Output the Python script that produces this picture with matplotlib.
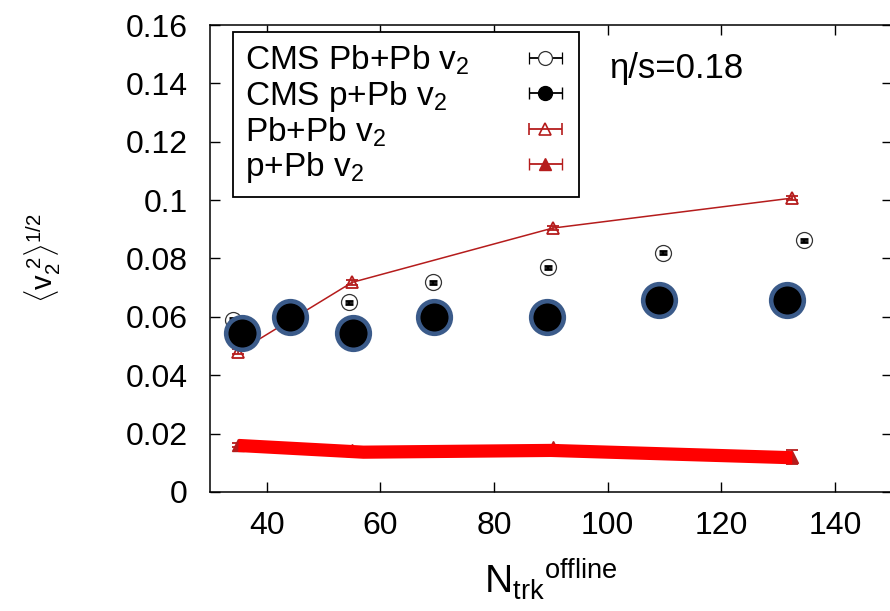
import numpy as np
import matplotlib
matplotlib.use("Agg")
import matplotlib.pyplot as plt
from matplotlib.ticker import FuncFormatter

plt.rcParams['font.family'] = ['Liberation Sans', 'DejaVu Sans']
plt.rcParams['mathtext.fontset'] = 'custom'
plt.rcParams['mathtext.rm'] = 'Liberation Sans'
plt.rcParams['mathtext.it'] = 'Liberation Sans'
plt.rcParams['mathtext.bf'] = 'Liberation Sans:bold'

# CMS measurements
cmsPbPbN = [34, 54.5, 69.2, 89.5, 109.8, 134.6]
cmsPbPbV2 = [0.059, 0.065, 0.0718, 0.077, 0.082, 0.0862]
cmsPbPbErr = [0.0005, 0.0005, 0.0005, 0.0005, 0.0005, 0.0005]

cmspPbN = [35.6, 44.1, 55.2, 69.5, 89.3, 109.1, 131.6]
cmspPbV2 = [0.0546, 0.0601, 0.0546, 0.0601, 0.0601, 0.0656, 0.0656]

# hydro calculation, eta/s = 0.18
modelN = [35, 55, 90.3, 132.5]
modelPbPbV2 = [0.048, 0.0718, 0.0904, 0.1007]
modelPbPbErr = [0.0008, 0.0008, 0.0008, 0.0008]
modelpPbV2 = [0.016, 0.0145, 0.0155, 0.012]
modelpPbErr = [0.0006, 0.0006, 0.0006, 0.0025]

# highlighted p+Pb trend
trendN = [35, 57, 90, 132.5]
trendV2 = [0.0159, 0.0136, 0.0142, 0.0117]

xTicks = [40, 60, 80, 100, 120, 140]
yTicks = [0, 0.02, 0.04, 0.06, 0.08, 0.1, 0.12, 0.14, 0.16]
labels = ['CMS Pb+Pb v$_2$', 'CMS p+Pb v$_2$', 'Pb+Pb v$_2$', 'p+Pb v$_2$']

darkRed = '#b51c1c'
ringBlue = '#3b5b8a'

fig = plt.figure(figsize=(8.9, 6.11), dpi=100)
ax = fig.add_axes([0.236, 0.195, 0.766, 0.764])

# open circles, with the (tiny) error bars drawn over them
ax.plot(cmsPbPbN, cmsPbPbV2, 'o', mfc='white', mec='#333333', ms=11.5, mew=0.9,
        zorder=3)
ax.errorbar(cmsPbPbN, cmsPbPbV2, yerr=cmsPbPbErr, fmt='none', ecolor='black',
            capsize=3.2, elinewidth=1.5, capthick=2, zorder=3.5)

ax.errorbar(modelN, modelPbPbV2, yerr=modelPbPbErr, fmt='^-', color=darkRed,
            mfc='none', ms=9, mew=1.3, lw=1.1, capsize=4, capthick=1.3, zorder=2)
ax.errorbar(modelN, modelpPbV2, yerr=modelpPbErr, fmt='^-', color=darkRed,
            ms=8, lw=1.1, capsize=4, capthick=1.3, zorder=2)

ax.plot(trendN, trendV2, color='#ff0000', lw=9.5, solid_capstyle='butt', zorder=4)

ax.plot(cmspPbN, cmspPbV2, 'o', color='black', mec=ringBlue, ms=23.5, mew=3.3,
        zorder=5)

# legend proxies with horizontal bars
h1 = ax.errorbar([np.nan], [np.nan], xerr=[1], fmt='o', color='black', mfc='white',
                 mec='#333333', ms=10, mew=0.9, capsize=4, elinewidth=1.3)
h2 = ax.errorbar([np.nan], [np.nan], xerr=[1], fmt='o', color='black', ms=10,
                 capsize=4, elinewidth=1.3)
h3 = ax.errorbar([np.nan], [np.nan], xerr=[1], fmt='^', color=darkRed, mfc='none',
                 ms=9, mew=1.2, capsize=4, elinewidth=1.3)
h4 = ax.errorbar([np.nan], [np.nan], xerr=[1], fmt='^', color=darkRed, ms=9,
                 capsize=4, elinewidth=1.3)
leg = ax.legend([h1, h2, h3, h4], labels,
                loc='upper left', bbox_to_anchor=(0.034, 0.985), borderaxespad=0,
                markerfirst=False, fancybox=False, framealpha=1, edgecolor='black',
                fontsize=24, handlelength=1.3, handletextpad=1.0,
                labelspacing=0.04, borderpad=0.36)
leg.get_frame().set_linewidth(1.3)

ax.text(100.2, 0.145, 'η/s=0.18', fontsize=25, va='center')

ax.set_xlim(30, 150)
ax.set_ylim(0, 0.16)
ax.set_xticks(xTicks)
ax.set_yticks(yTicks)
ax.yaxis.set_major_formatter(FuncFormatter(lambda v, p: '%g' % v))
ax.tick_params(direction='in', length=7, width=1, top=True, right=True,
               labelsize=23)
ax.tick_params(axis='y', pad=16)
ax.tick_params(axis='x', pad=14)
for s in ax.spines.values():
    s.set_linewidth(1.1)

ax.set_xlabel(r'$\mathrm{N_{trk}}^{\mathrm{offline}}$', fontsize=28, labelpad=11)
ax.set_ylabel(r'$\langle \mathrm{v}_2^{\ 2}\rangle^{1/2}$', fontsize=21)
ax.yaxis.set_label_coords(-0.215, 0.5)

# left-align the legend texts so the symbols line up in one column
fig.canvas.draw()
r = fig.canvas.get_renderer()
rows = leg._legend_handle_box.get_children()[0].get_children()
widths = [row.get_children()[0].get_window_extent(r).width for row in rows]
for row, w in zip(rows, widths):
    row.sep = (54 + max(widths) - w) * 72 / fig.dpi

fig.savefig('out.png', dpi=100)
